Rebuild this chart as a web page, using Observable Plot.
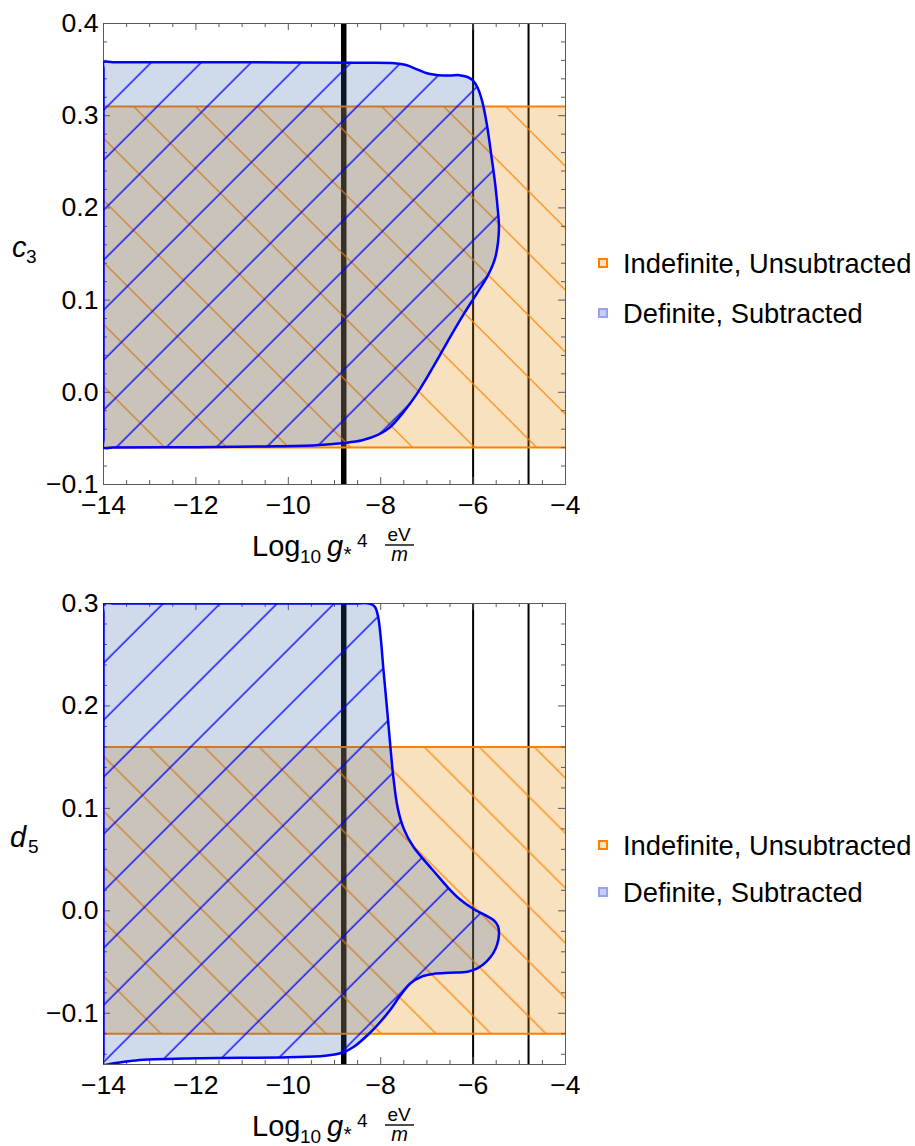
<!DOCTYPE html>
<html><head><meta charset="utf-8">
<script src="https://cdn.jsdelivr.net/npm/d3@7"></script>
<script src="https://cdn.jsdelivr.net/npm/@observablehq/plot@0.6"></script>
<style>
html,body{margin:0;padding:0;background:#fff;}
#page{position:relative;width:915px;height:1146px;overflow:hidden;font-family:"Liberation Sans",Arial,sans-serif;}
#chart1{position:absolute;left:0;top:0;}
#chart2{position:absolute;left:0;top:575px;}
#overlay{position:absolute;left:0;top:0;pointer-events:none;}
</style></head>
<body>
<div id="page">
<svg width="0" height="0" style="position:absolute"><defs id="patterns"></defs></svg>
<div id="chart1"></div>
<div id="chart2"></div>
<svg id="overlay" width="915" height="1146" font-family="Liberation Sans, Arial, sans-serif"></svg>
</div>
<script>
// ---------------- data ----------------
const xDomain = [-14, -4];
const xTicksMajor = [-14, -12, -10, -8, -6, -4];
const xTickLabels = ["−14", "−12", "−10", "−8", "−6", "−4"];

const vLinesThin = [-6, -4.8];
const vLineThick = [-8.8];

// chart 1: c3
const c3Domain = [-0.1, 0.4];
const c3TicksMajor = [-0.1, 0, 0.1, 0.2, 0.3, 0.4];
const c3TickLabels = ["−0.1", "0.0", "0.1", "0.2", "0.3", "0.4"];
const c3IndefX = [-14, -4];
const c3IndefY = [-0.06, 0.31];
const c3DefX = [-14, -14, -14, -13.8, -12, -10, -8.5, -7.7, -7.45, -7.2, -7.0, -6.75, -6.5, -6.3, -6.12, -6.0, -5.9, -5.8, -5.7, -5.6, -5.52, -5.46, -5.44, -5.46, -5.52, -5.6, -5.7, -5.92, -6.2, -6.46, -6.71, -7.0, -7.22, -7.5, -7.8, -8.05, -8.4, -8.8, -9.4, -10.5, -12, -13.8, -14, -14, -14];
const c3DefY = [0.15, 0.35, 0.358, 0.358, 0.358, 0.3578, 0.3575, 0.357, 0.355, 0.350, 0.346, 0.344, 0.3435, 0.344, 0.342, 0.338, 0.330, 0.315, 0.290, 0.255, 0.225, 0.195, 0.180, 0.163, 0.146, 0.135, 0.125, 0.107, 0.085, 0.063, 0.041, 0.016, -0.002, -0.021, -0.038, -0.046, -0.052, -0.055, -0.0575, -0.0588, -0.0595, -0.06, -0.06, -0.05, 0.15];

// chart 2: d5
const d5Domain = [-0.15, 0.3];
const d5TicksMajor = [-0.1, 0, 0.1, 0.2, 0.3];
const d5TickLabels = ["−0.1", "0.0", "0.1", "0.2", "0.3"];
const d5IndefX = [-14, -4];
const d5IndefY = [-0.12, 0.16];
const d5DefX = [-14, -14, -14, -13.8, -11, -8.6, -8.25, -8.13, -8.06, -8.0, -7.94, -7.86, -7.79, -7.72, -7.63, -7.5, -7.3, -7.05, -6.8, -6.55, -6.28, -6.0, -5.75, -5.56, -5.46, -5.44, -5.48, -5.56, -5.7, -5.9, -6.12, -6.5, -6.85, -7.1, -7.36, -7.58, -7.8, -8.0, -8.23, -8.59, -8.8, -9.2, -10, -12, -13.3, -13.8, -14, -14, -14];
const d5DefY = [0.1, 0.29, 0.3, 0.3, 0.3, 0.3, 0.3, 0.297, 0.288, 0.267, 0.235, 0.196, 0.16, 0.128, 0.1, 0.08, 0.063, 0.049, 0.036, 0.023, 0.011, 0.002, -0.004, -0.009, -0.015, -0.023, -0.033, -0.041, -0.049, -0.056, -0.0595, -0.0605, -0.0615, -0.064, -0.071, -0.083, -0.097, -0.108, -0.119, -0.133, -0.138, -0.1415, -0.143, -0.144, -0.146, -0.149, -0.15, -0.14, 0.1];

const legendLabels = ["Indefinite, Unsubtracted", "Definite, Subtracted"];

// ---------------- styles ----------------
const FONT = "Liberation Sans, Arial, sans-serif";
const ORANGE_LINE = "#ff8000";
const ORANGE_HATCH = "#ff8400";
const BLUE = "#0000ff";
const FRAME = "#5a5a5a";
const NS = "http://www.w3.org/2000/svg";

function addHatch(id, color, spacing, phase, angle, width) {
  const d = spacing / Math.SQRT2;
  const x0 = (((phase % spacing) + spacing) % spacing) / Math.SQRT2;
  const p = document.createElementNS(NS, "pattern");
  p.setAttribute("id", id);
  p.setAttribute("patternUnits", "userSpaceOnUse");
  p.setAttribute("width", d);
  p.setAttribute("height", d);
  p.setAttribute("patternTransform", `rotate(${angle})`);
  for (const off of [-d, 0, d]) {
    const l = document.createElementNS(NS, "line");
    l.setAttribute("x1", x0 + off); l.setAttribute("x2", x0 + off);
    l.setAttribute("y1", -2); l.setAttribute("y2", d + 2);
    l.setAttribute("stroke", color); l.setAttribute("stroke-width", width);
    p.appendChild(l);
  }
  document.getElementById("patterns").appendChild(p);
}
addHatch("hb1", BLUE, 50, 12.7, 45, 1.3);
addHatch("ho1", ORANGE_HATCH, 62, 27.3, -45, 1.25);
addHatch("hb2", BLUE, 57, 19.7, 45, 1.3);
addHatch("ho2", ORANGE_HATCH, 55, 32.3, -45, 1.25);

function minors(step, lo, hi, majors) {
  const out = [];
  for (let i = Math.round(lo / step); i <= Math.round(hi / step); i++) {
    const v = +(i * step).toFixed(6);
    if (!majors.some(m => Math.abs(m - v) < 1e-9)) out.push(v);
  }
  return out;
}

function chart(cfg) {
  const {yDomain, yMajor, yLabels, indefX, indefY, defX, defY, marginTop, marginBottom, height, hb, ho} = cfg;
  const W = 580, ML = 103, MR = 15;
  const plotW = W - ML - MR;
  const plotH = height - marginTop - marginBottom;
  const poly = defX.map((x, i) => ({x, y: defY[i]}));
  const indef = [{x1: indefX[0], x2: indefX[1], y1: indefY[0], y2: indefY[1]}];
  const xMinor = minors(0.5, xDomain[0], xDomain[1], xTicksMajor);
  const yMinor = minors(0.02, yDomain[0], yDomain[1], yMajor);
  const curve = "catmull-rom";
  return Plot.plot({
    width: W, height, marginLeft: ML, marginRight: MR, marginTop, marginBottom,
    x: {domain: xDomain, axis: null},
    y: {domain: yDomain, axis: null},
    style: {fontFamily: FONT, background: "white", color: "black"},
    marks: [
      Plot.ruleX(vLinesThin, {stroke: "black", strokeWidth: 2}),
      Plot.ruleX(vLineThick, {stroke: "black", strokeWidth: 5.5}),
      Plot.rect(indef, {x1: "x1", x2: "x2", y1: "y1", y2: "y2", fill: "rgb(224,135,0)", fillOpacity: 0.25}),
      Plot.rect(indef, {x1: "x1", x2: "x2", y1: "y1", y2: "y2", fill: `url(#${ho})`}),
      Plot.ruleY(indefY, {stroke: ORANGE_LINE, strokeWidth: 2}),
      Plot.line(poly, {x: "x", y: "y", curve, fill: "rgb(48,95,170)", fillOpacity: 0.23, stroke: "none", clip: true}),
      Plot.line(poly, {x: "x", y: "y", curve, fill: `url(#${hb})`, stroke: "none", clip: true}),
      Plot.frame({stroke: FRAME, strokeWidth: 1}),
      // ticks (inward, on all four sides)
      Plot.ruleX(xTicksMajor, {stroke: FRAME, insetTop: plotH - 7}),
      Plot.ruleX(xTicksMajor, {stroke: FRAME, insetBottom: plotH - 7}),
      Plot.ruleX(xMinor, {stroke: FRAME, insetTop: plotH - 4}),
      Plot.ruleX(xMinor, {stroke: FRAME, insetBottom: plotH - 4}),
      Plot.ruleY(yMajor, {stroke: FRAME, insetRight: plotW - 7}),
      Plot.ruleY(yMajor, {stroke: FRAME, insetLeft: plotW - 7}),
      Plot.ruleY(yMinor, {stroke: FRAME, insetRight: plotW - 4}),
      Plot.ruleY(yMinor, {stroke: FRAME, insetLeft: plotW - 4}),
      Plot.line(poly, {x: "x", y: "y", curve, stroke: BLUE, strokeWidth: 2.5, clip: true}),
      // tick labels
      Plot.text(xTicksMajor, {x: d => d, text: (d, i) => xTickLabels[i], frameAnchor: "bottom", lineAnchor: "bottom", dy: 29, fontSize: 26.6, fill: "black"}),
      Plot.text(yMajor, {y: d => d, text: (d, i) => yLabels[i], frameAnchor: "left", textAnchor: "end", dx: -5, fontSize: 26.6, fill: "black"})
    ]
  });
}

document.getElementById("chart1").appendChild(chart({
  yDomain: c3Domain, yMajor: c3TicksMajor, yLabels: c3TickLabels,
  indefX: c3IndefX, indefY: c3IndefY, defX: c3DefX, defY: c3DefY,
  marginTop: 23, marginBottom: 91, height: 575, hb: "hb1", ho: "ho1"
}));
document.getElementById("chart2").appendChild(chart({
  yDomain: d5Domain, yMajor: d5TicksMajor, yLabels: d5TickLabels,
  indefX: d5IndefX, indefY: d5IndefY, defX: d5DefX, defY: d5DefY,
  marginTop: 28, marginBottom: 82, height: 571, hb: "hb2", ho: "ho2"
}));

// ---------------- overlay: axis labels & legends ----------------
const ov = document.getElementById("overlay");
function txt(s, x, y, size, opts = {}) {
  const t = document.createElementNS(NS, "text");
  t.setAttribute("x", x); t.setAttribute("y", y);
  t.setAttribute("font-size", size);
  t.setAttribute("fill", "black");
  if (opts.italic) t.setAttribute("font-style", "italic");
  if (opts.anchor) t.setAttribute("text-anchor", opts.anchor);
  t.textContent = s;
  ov.appendChild(t);
}
function xLabel(B) {
  txt("Log", 252, B + 72, 29);
  txt("10", 300, B + 79, 19);
  txt("g", 327, B + 72, 29, {italic: true});
  txt("*", 343.5, B + 76.5, 21);
  txt("4", 357, B + 63, 19);
  txt("eV", 399, B + 57, 19, {anchor: "middle"});
  const l = document.createElementNS(NS, "line");
  l.setAttribute("x1", 385); l.setAttribute("x2", 414);
  l.setAttribute("y1", B + 61); l.setAttribute("y2", B + 61);
  l.setAttribute("stroke", "black"); l.setAttribute("stroke-width", 1.4);
  ov.appendChild(l);
  txt("m", 399.5, B + 77, 20, {italic: true, anchor: "middle"});
}
xLabel(484);
xLabel(1064);
txt("c", 12, 257, 29, {italic: true});
txt("3", 26, 263, 19);
txt("d", 10, 847, 29, {italic: true});
txt("5", 28, 853, 19);

function legend(y1, y2) {
  const rows = [
    {y: y1, fill: "#f8e2c0", stroke: ORANGE_LINE, label: legendLabels[0]},
    {y: y2, fill: "#c8d0f0", stroke: "#9aa0f2", label: legendLabels[1]}
  ];
  for (const r of rows) {
    const rc = document.createElementNS(NS, "rect");
    rc.setAttribute("x", 599); rc.setAttribute("y", r.y - 4);
    rc.setAttribute("width", 8); rc.setAttribute("height", 8);
    rc.setAttribute("fill", r.fill); rc.setAttribute("stroke", r.stroke);
    rc.setAttribute("stroke-width", 2);
    ov.appendChild(rc);
    txt(r.label, 623, r.y + 10, 27.3);
  }
}
legend(263, 313);
legend(845, 892);
</script>
</body></html>
